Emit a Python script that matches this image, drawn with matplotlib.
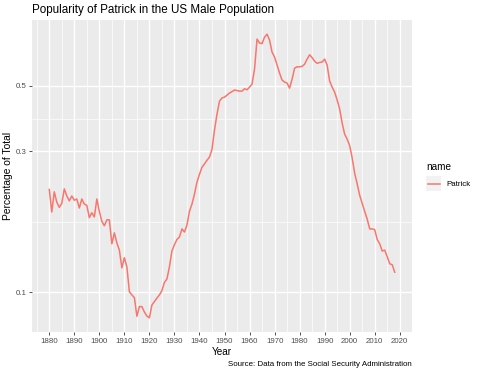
import numpy as np
import matplotlib.pyplot as plt
from matplotlib.lines import Line2D
from matplotlib.patches import Rectangle

plt.rcParams['font.family'] = ['Liberation Sans', 'DejaVu Sans']

# share of male babies named Patrick (percent of total)
years = list(range(1880, 2019))
pct = [
    0.223, 0.187, 0.219, 0.202, 0.194, 0.200, 0.224, 0.212, 0.204, 0.212,  # 1880s
    0.205, 0.207, 0.193, 0.207, 0.199, 0.197, 0.179, 0.186, 0.180, 0.207,  # 1890s
    0.188, 0.174, 0.168, 0.176, 0.176, 0.146, 0.159, 0.147, 0.139, 0.121,  # 1900s
    0.131, 0.122, 0.1005, 0.098, 0.096, 0.083, 0.0895, 0.0895, 0.0858, 0.0831,  # 1910s
    0.0820, 0.0906, 0.0931, 0.0956, 0.098, 0.1014, 0.108, 0.111, 0.122, 0.138,  # 1920s
    0.145, 0.151, 0.154, 0.164, 0.160, 0.169, 0.188, 0.199, 0.215, 0.236,  # 1930s
    0.251, 0.265, 0.272, 0.280, 0.287, 0.305, 0.354, 0.401, 0.444, 0.455,  # 1940s
    0.458, 0.465, 0.473, 0.478, 0.484, 0.482, 0.480, 0.480, 0.489, 0.485,  # 1950s
    0.495, 0.507, 0.570, 0.720, 0.698, 0.695, 0.731, 0.748, 0.714, 0.650,  # 1960s
    0.626, 0.588, 0.552, 0.523, 0.515, 0.511, 0.491, 0.527, 0.574, 0.580,  # 1970s
    0.580, 0.582, 0.592, 0.616, 0.637, 0.623, 0.606, 0.596, 0.600, 0.602,  # 1980s
    0.616, 0.588, 0.519, 0.495, 0.476, 0.448, 0.417, 0.374, 0.343, 0.330,  # 1990s
    0.314, 0.285, 0.253, 0.233, 0.213, 0.200, 0.188, 0.177, 0.164, 0.164,  # 2000s
    0.163, 0.151, 0.146, 0.138, 0.139, 0.132, 0.125, 0.124, 0.117,  # 2010s
]
x_breaks = list(range(1880, 2021, 10))
y_breaks = [0.1, 0.3, 0.5]
series_name = 'Patrick'

line_col = '#F8766D'
panel_bg = '#EBEBEB'

fig = plt.figure(figsize=(4.8, 3.73), dpi=100)
ax = fig.add_axes([32 / 480, 41 / 373, 380 / 480, 312 / 373])
ax.set_facecolor(panel_bg)

ax.plot(years, pct, color=line_col, lw=1.1)
ax.set_yscale('log')

# ggplot-style 5% expansion (in log space for y)
xr = max(years) - min(years)
ax.set_xlim(min(years) - 0.05 * xr, max(years) + 0.05 * xr)
lo, hi = np.log10(min(pct)), np.log10(max(pct))
ax.set_ylim(10 ** (lo - 0.05 * (hi - lo)), 10 ** (hi + 0.05 * (hi - lo)))

ax.set_xticks(x_breaks)
ax.set_xticks([b + 5 for b in x_breaks[:-1]] + [1875], minor=True)
ax.set_yticks(y_breaks)
ax.set_yticklabels([str(b) for b in y_breaks])
lb = np.log10(y_breaks)
ymin = [10 ** ((lb[i] + lb[i + 1]) / 2) for i in range(len(lb) - 1)]
ax.set_yticks(ymin, minor=True)
ax.set_yticklabels([], minor=True)

ax.grid(which='major', color='white', lw=1.0)
ax.grid(which='minor', color='white', lw=0.5)
ax.set_axisbelow(True)
for s in ax.spines.values():
    s.set_visible(False)
ax.tick_params(which='major', length=2.5, width=0.6, color='#333333',
               labelsize=5.7, labelcolor='#4D4D4D', pad=1.5)
ax.tick_params(which='minor', length=0)

ax.set_xlabel('Year', fontsize=7.2, labelpad=1.5)
ax.set_ylabel('Percentage of Total', fontsize=7.4, labelpad=1.5)
fig.text(32 / 480, 1 - 10 / 373, 'Popularity of Patrick in the US Male Population',
         fontsize=8.4, va='center', ha='left')
fig.text(412 / 480, 1 - 364 / 373, 'Source: Data from the Social Security Administration',
         fontsize=5.7, va='center', ha='right')

# legend
fig.text(426 / 480, 1 - 167 / 373, 'name', fontsize=7.2, va='center', ha='left')
fig.add_artist(Rectangle((426 / 480, 1 - 191 / 373), 15 / 480, 15 / 373,
                         transform=fig.transFigure, facecolor='#F2F2F2', edgecolor='none'))
fig.add_artist(Line2D([427.5 / 480, 439.5 / 480], [1 - 183.5 / 373, 1 - 183.5 / 373],
                      transform=fig.transFigure, color=line_col, lw=1.1))
fig.text(446 / 480, 1 - 184 / 373, series_name, fontsize=5.7, va='center', ha='left')

plt.savefig('out.png', dpi=100)
